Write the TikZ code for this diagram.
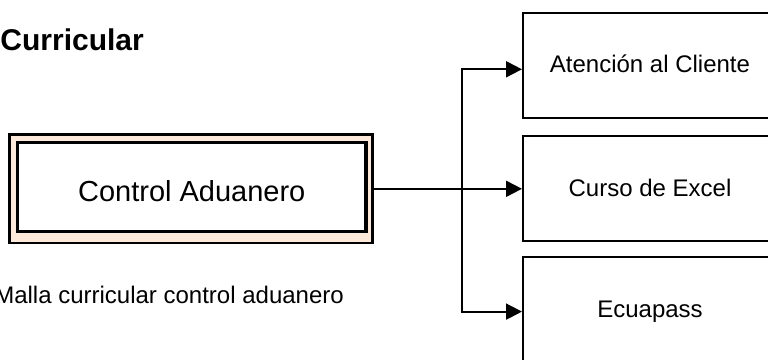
\documentclass[tikz,border=0pt]{standalone}
\usepackage{fontspec}
\setmainfont{Liberation Sans}
\usetikzlibrary{arrows.meta}
\definecolor{peach}{RGB}{253,233,217}
\begin{document}
\begin{tikzpicture}[x=1pt,y=-1pt,
  course/.style={draw,line width=2pt,minimum width=254pt,minimum height=105pt,
    inner sep=0pt,font=\fontsize{24}{28}\selectfont,text height=17pt,text depth=2.6pt},
  link/.style={line width=2pt},
  tip/.style={-{Triangle[length=16pt,width=16pt]}}]
\useasboundingbox (0,0) rectangle (768,359);
\clip (0,0) rectangle (768,359);

% title fragment and caption
\node[anchor=base east,inner sep=0pt,font=\fontsize{30}{34}\selectfont\bfseries] (title) at (144,50) {Curricular};
\node[anchor=base east,inner sep=0pt,font=\fontsize{24}{28}\selectfont] (caption) at (344,303) {Malla curricular control aduanero};

% central program box: double frame with peach band
\node[draw,line width=2.7pt,fill=peach,minimum width=362.6pt,minimum height=108.3pt,inner sep=0pt] (ctrl) at (191,188.8) {};
\node[draw,line width=3.3pt,fill=white,minimum width=348.5pt,minimum height=89pt,inner sep=0pt,
  font=\fontsize{29}{34}\selectfont,text height=29pt,text depth=0pt] (ctrlin) at (191.75,187.2) {Control Aduanero};

% course boxes
\node[course] (b1) at (650,65.3) {Atención al Cliente};
\node[course] (b2) at (650,188.8) {Curso de Excel};
\node[course] (b3) at (650,309.8) {Ecuapass};

% connectors
\coordinate (top) at (462,69.3);
\coordinate (bot) at (462,311.6);
\draw[link,tip] (ctrl.east) -- (ctrl.east -| b2.west);
\draw[link,{Triangle[length=16pt,width=16pt]}-{Triangle[length=16pt,width=16pt]}]
  (top -| b1.west) -- (top) -- (bot) -- (bot -| b3.west);
\end{tikzpicture}
\end{document}
